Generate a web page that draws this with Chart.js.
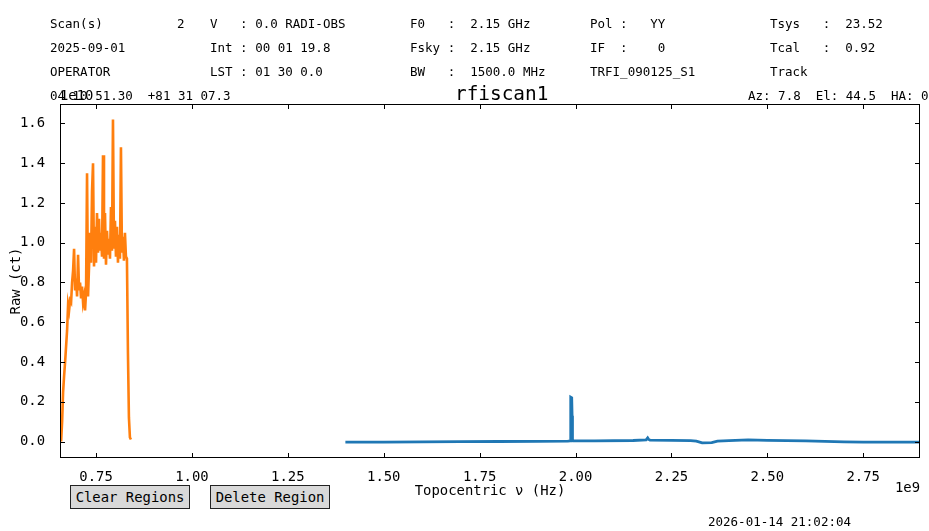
<!DOCTYPE html>
<html>
<head>
<meta charset="utf-8">
<script src="https://cdn.jsdelivr.net/npm/chart.js@4/dist/chart.umd.min.js"></script>
<style>
  html, body { margin: 0; padding: 0; background: #fff; overflow: hidden; }
  body { width: 929px; height: 531px; position: relative; font-family: 'DejaVu Sans Mono', monospace; color: #000; }
  #plot { position: absolute; left: 0; top: 0; }
  .hd { position: absolute; white-space: pre; font-size: 12.5px; line-height: 15px; }
  .ttl { position: absolute; white-space: pre; font-size: 19.4px; line-height: 23px; left: 455px; top: 82px; }
  .btn { position: absolute; top: 485px; width: 120px; height: 24px; box-sizing: border-box;
         background: #d9d9d9; border: 1px solid #222; font: 13.9px 'DejaVu Sans Mono', monospace;
         padding: 0; color: #000; line-height: 22px; text-align: center; }
</style>
</head>
<body>
<canvas id="plot" width="929" height="531"></canvas>

<div class="hd" style="left:50px;top:15.5px">Scan(s)</div>
<div class="hd" style="left:177px;top:15.5px">2</div>
<div class="hd" style="left:210px;top:15.5px">V   : 0.0 RADI-OBS</div>
<div class="hd" style="left:410px;top:15.5px">F0   :  2.15 GHz</div>
<div class="hd" style="left:590px;top:15.5px">Pol :   YY</div>
<div class="hd" style="left:770px;top:15.5px">Tsys   :  23.52</div>

<div class="hd" style="left:50px;top:39.5px">2025-09-01</div>
<div class="hd" style="left:210px;top:39.5px">Int : 00 01 19.8</div>
<div class="hd" style="left:410px;top:39.5px">Fsky :  2.15 GHz</div>
<div class="hd" style="left:590px;top:39.5px">IF  :    0</div>
<div class="hd" style="left:770px;top:39.5px">Tcal   :  0.92</div>

<div class="hd" style="left:50px;top:63.5px">OPERATOR</div>
<div class="hd" style="left:210px;top:63.5px">LST : 01 30 0.0</div>
<div class="hd" style="left:410px;top:63.5px">BW   :  1500.0 MHz</div>
<div class="hd" style="left:590px;top:63.5px">TRFI_090125_S1</div>
<div class="hd" style="left:770px;top:63.5px">Track</div>

<div class="hd" style="left:50px;top:88px">04 10 51.30  +81 31 07.3</div>
<div class="hd" style="left:748px;top:88px">Az: 7.8  El: 44.5  HA: 0</div>
<div class="ttl">rfiscan1</div>

<button class="btn" style="left:70px">Clear Regions</button>
<button class="btn" style="left:210px">Delete Region</button>
<div class="hd" style="left:708px;top:514px">2026-01-14 21:02:04</div>

<script>
// axis ticks / limits (x in GHz -> shown with 1e9 offset, y shown with 1e10 offset)
const xTickValues = [0.75, 1.00, 1.25, 1.50, 1.75, 2.00, 2.25, 2.50, 2.75]
const yTickValues = [0.0, 0.2, 0.4, 0.6, 0.8, 1.0, 1.2, 1.4, 1.6]
const xLimits = [0.656, 2.898]
const yLimits = [-0.083, 1.698]

// low band scan (orange), one value per channel
const lowStart = 0.6589
const lowStep = 0.0026
const lowValues = [
  0.00, 0.10, 0.25, 0.33, 0.40, 0.48, 0.56, 0.69, 0.66, 0.71,
  0.70, 0.80, 0.86, 0.97, 0.76, 0.82, 0.73, 0.94, 0.76, 0.80,
  0.72, 0.78, 0.70, 0.73, 0.66, 0.75, 1.35, 0.73, 0.88, 1.05,
  0.90, 1.26, 1.40, 0.88, 1.08, 0.90, 1.15, 0.95, 1.12, 0.96,
  1.05, 0.93, 1.44, 0.92, 1.15, 0.89, 1.06, 0.94, 1.02, 0.92,
  1.18, 0.96, 1.62, 0.97, 1.11, 0.93, 1.08, 0.90, 1.04, 0.92,
  1.48, 0.95, 1.03, 0.91, 1.05, 0.93, 0.92, 0.45, 0.12, 0.02,
  0.01
]

// high band scan (blue)
const highFreq = [1.400, 1.500, 1.600, 1.700, 1.800, 1.900, 1.980, 1.986, 1.987, 1.988,
  1.990, 1.991, 1.992, 1.994, 2.050, 2.150, 2.184, 2.188, 2.190, 2.194,
  2.250, 2.300, 2.315, 2.330, 2.355, 2.370, 2.400, 2.450, 2.500, 2.600,
  2.700, 2.750, 2.898]
const highValues = [-0.003, -0.003, -0.002, -0.001, 0.000, 0.001, 0.002, 0.003, 0.14, 0.223,
  0.22, 0.13, 0.01, 0.003, 0.003, 0.005, 0.008, 0.018, 0.012, 0.007,
  0.006, 0.004, 0.002, -0.007, -0.006, 0.002, 0.004, 0.008, 0.006, 0.003,
  -0.002, -0.003, -0.003]

const monoFont = "'DejaVu Sans Mono', monospace"

let lowData = lowValues.map((v, i) => ({x: lowStart + i * lowStep, y: v}))
let highData = highFreq.map((f, i) => ({x: f, y: highValues[i]}))

// matplotlib-like frame: box, inward ticks on all sides, offset texts
const frameTicks = {
  id: 'frameTicks',
  afterDraw(chart) {
    const {ctx, chartArea: a, scales} = chart
    const len = 5
    ctx.save()
    ctx.strokeStyle = '#000'
    ctx.lineWidth = 1
    ctx.strokeRect(a.left + 0.5, a.top + 0.5, a.right - a.left - 1, a.bottom - a.top - 1)
    ctx.beginPath()
    xTickValues.forEach((v) => {
      let px = Math.round(scales.x.getPixelForValue(v)) + 0.5
      ctx.moveTo(px, a.bottom); ctx.lineTo(px, a.bottom - len)
      ctx.moveTo(px, a.top); ctx.lineTo(px, a.top + len)
    })
    yTickValues.forEach((v) => {
      let py = Math.round(scales.y.getPixelForValue(v)) + 0.5
      ctx.moveTo(a.left, py); ctx.lineTo(a.left + len, py)
      ctx.moveTo(a.right, py); ctx.lineTo(a.right - len, py)
    })
    ctx.stroke()

    ctx.fillStyle = '#000'
    ctx.font = '13.9px ' + monoFont
    ctx.textBaseline = 'alphabetic'
    ctx.textAlign = 'left'
    ctx.fillText('1e10', a.left, a.top - 4)
    ctx.textAlign = 'right'
    ctx.fillText('1e9', a.right, a.bottom + 34)
    ctx.restore()
  }
}

let config = {
  type: 'line',
  data: {
    datasets: [{
      label: 'scan 1',
      data: lowData,
      borderColor: '#ff7f0e',
      borderWidth: 2.6,
      pointRadius: 0,
      tension: 0,
    }, {
      label: 'scan 2',
      data: highData,
      borderColor: '#1f77b4',
      borderWidth: 2.8,
      pointRadius: 0,
      tension: 0,
    }]
  },
  options: {
    responsive: false,
    animation: false,
    layout: {
      padding: {left: 8, right: 9, top: 104, bottom: 31}
    },
    scales: {
      x: {
        type: 'linear',
        min: xLimits[0],
        max: xLimits[1],
        grid: {display: false},
        border: {display: false},
        afterFit: (s) => { s.height = 42 },
        afterBuildTicks: (s) => { s.ticks = xTickValues.map((v) => ({value: v})) },
        ticks: {
          autoSkip: false,
          maxRotation: 0,
          padding: 3,
          color: '#000',
          font: {family: monoFont, size: 13.9},
          callback: (v) => Number(v).toFixed(2)
        },
        title: {
          display: true,
          text: 'Topocentric ν (Hz)',
          color: '#000',
          padding: 0,
          font: {family: monoFont, size: 13.9}
        }
      },
      y: {
        min: yLimits[0],
        max: yLimits[1],
        grid: {display: false},
        border: {display: false},
        afterFit: (s) => { s.width = 52 },
        afterBuildTicks: (s) => { s.ticks = yTickValues.map((v) => ({value: v})) },
        ticks: {
          autoSkip: false,
          padding: 7,
          color: '#000',
          font: {family: monoFont, size: 13.9},
          callback: (v) => Number(v).toFixed(1)
        },
        title: {
          display: true,
          text: 'Raw (ct)',
          color: '#000',
          padding: 0,
          font: {family: monoFont, size: 13.9}
        }
      }
    },
    plugins: {
      legend: {display: false},
      tooltip: {enabled: false}
    }
  },
  plugins: [frameTicks]
}

let mychart = new Chart(document.getElementById('plot'), config)
</script>
</body>
</html>
